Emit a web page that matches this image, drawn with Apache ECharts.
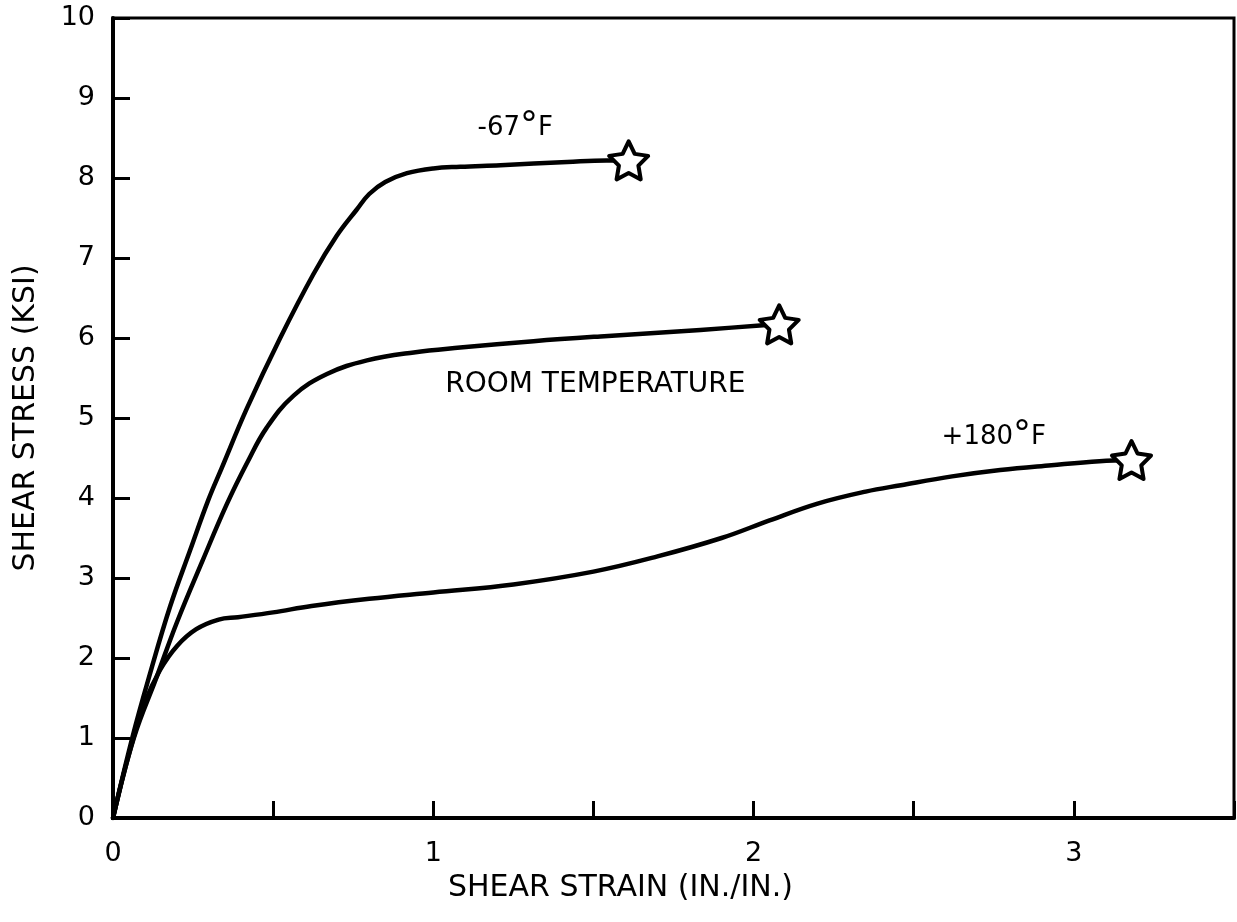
<!DOCTYPE html>
<html>
<head>
<meta charset="utf-8">
<script src="https://cdn.jsdelivr.net/npm/echarts@6/dist/echarts.min.js"></script>
<style>
html,body{margin:0;padding:0;background:#fff;}
#chart{width:1237px;height:922px;}
</style>
</head>
<body>
<div id="chart"></div>
<script>
// Shear strain (in./in.) vs shear stress (ksi)
const strainMinus67 = [0, 0.06, 0.116, 0.178, 0.241, 0.298, 0.34, 0.418, 0.522, 0.626, 0.699, 0.76, 0.8, 0.85, 0.918, 1.0, 1.084, 1.21, 1.418, 1.54, 1.61];
const stressMinus67 = [0, 1.0, 1.81, 2.64, 3.35, 3.98, 4.38, 5.12, 6.0, 6.8, 7.28, 7.6, 7.8, 7.95, 8.06, 8.12, 8.14, 8.16, 8.2, 8.22, 8.22];

const strainRoom = [0, 0.065, 0.137, 0.2, 0.28, 0.355, 0.42, 0.48, 0.564, 0.668, 0.793, 0.939, 1.084, 1.313, 1.522, 1.834, 2.03, 2.08];
const stressRoom = [0, 1.0, 1.77, 2.45, 3.22, 3.92, 4.45, 4.88, 5.28, 5.55, 5.72, 5.82, 5.88, 5.96, 6.02, 6.10, 6.16, 6.17];

const strainPlus180 = [0, 0.05, 0.1, 0.147, 0.2, 0.26, 0.33, 0.39, 0.5, 0.62, 0.8, 1.0, 1.25, 1.5, 1.7, 1.9, 2.05, 2.2, 2.35, 2.46, 2.62, 2.77, 2.93, 3.08, 3.18];
const stressPlus180 = [0, 0.8, 1.45, 1.85, 2.15, 2.36, 2.48, 2.51, 2.57, 2.65, 2.74, 2.82, 2.92, 3.08, 3.27, 3.5, 3.72, 3.93, 4.08, 4.16, 4.27, 4.35, 4.41, 4.46, 4.475];

// curve labels: [strain, stress, text, unit]
const curveLabels = [
  [1.256, 8.62, '-67', 'F'],
  [1.506, 5.41, 'ROOM TEMPERATURE', ''],
  [2.75, 4.76, '+180', 'F']
];

const xTicks = [0, 1, 2, 3];
const yTicks = [0,1,2,3,4,5,6,7,8,9,10];

function pairs(xs, ys){ return xs.map((x,i)=>[x, ys[i]]); }
function last(xs, ys){ return [xs[xs.length-1], ys[ys.length-1]]; }

const STAR = 'path://M50 0 L64.69 29.77 L97.55 34.55 L73.78 57.73 L79.39 90.45 L50 75 L20.61 90.45 L26.22 57.73 L2.45 34.55 L35.31 29.77 Z';
const FONT = 'DejaVu Sans';

function lineSeries(xs, ys){
  return {
    type: 'line',
    data: pairs(xs, ys),
    smooth: 0.4,
    showSymbol: false,
    lineStyle: {color: '#000', width: 4.5, cap: 'round', join: 'round'},
    z: 2
  };
}

const chart = echarts.init(document.getElementById('chart'), null, {renderer: 'canvas'});
chart.setOption({
  animation: false,
  backgroundColor: '#fff',
  grid: {left: 113, top: 18, right: 3, bottom: 104, show: true, borderColor: '#000', borderWidth: 3},
  xAxis: {
    type: 'value', min: 0, max: 3.5, interval: 0.5,
    name: 'SHEAR STRAIN (IN./IN.)', nameLocation: 'middle', nameGap: 55,
    nameTextStyle: {fontFamily: FONT, fontSize: 30, color: '#000', padding: [0, 106, 0, 0]},
    axisLine: {show: true, lineStyle: {color: '#000', width: 4}},
    axisTick: {show: true, inside: true, length: 17, lineStyle: {color: '#000', width: 3}},
    splitLine: {show: false},
    axisLabel: {
      fontFamily: FONT, fontSize: 27, color: '#000', margin: 22,
      formatter: v => xTicks.indexOf(v) >= 0 ? String(v) : ''
    }
  },
  yAxis: {
    type: 'value', min: 0, max: 10, interval: 1,
    name: 'SHEAR STRESS (KSI)', nameLocation: 'middle', nameGap: 72, nameRotate: 90,
    nameTextStyle: {fontFamily: FONT, fontSize: 30, color: '#000'},
    axisLine: {show: true, lineStyle: {color: '#000', width: 4}},
    axisTick: {show: true, inside: true, length: 17, lineStyle: {color: '#000', width: 3}},
    splitLine: {show: false},
    axisLabel: {
      fontFamily: FONT, fontSize: 27, color: '#000', margin: 18,
      formatter: v => yTicks.indexOf(v) >= 0 ? String(v) : ''
    }
  },
  series: [
    lineSeries(strainMinus67, stressMinus67),
    lineSeries(strainRoom, stressRoom),
    lineSeries(strainPlus180, stressPlus180),
    {
      type: 'scatter',
      data: [last(strainMinus67, stressMinus67), last(strainRoom, stressRoom), last(strainPlus180, stressPlus180)],
      symbol: STAR,
      symbolSize: [39, 38],
      itemStyle: {color: '#fff', borderColor: '#000', borderWidth: 4, borderJoin: 'round', opacity: 1},
      z: 5
    },
    {
      type: 'scatter',
      symbolSize: 0,
      itemStyle: {opacity: 1},
      data: curveLabels.map(l => ({value: [l[0], l[1]], main: l[2], unit: l[3]})),
      label: {
        show: true, position: 'inside', color: '#000',
        formatter: p => p.data.unit ? '{a|' + p.data.main + '}{d|°}{a|' + p.data.unit + '}' : '{r|' + p.data.main + '}',
        rich: {
          a: {fontFamily: FONT, fontSize: 26, color: '#000'},
          r: {fontFamily: FONT, fontSize: 28, color: '#000'},
          d: {fontFamily: FONT, fontSize: 36, color: '#000', padding: [0, 0, 4, 0]}
        }
      },
      z: 6
    }
  ]
});
</script>
</body>
</html>
